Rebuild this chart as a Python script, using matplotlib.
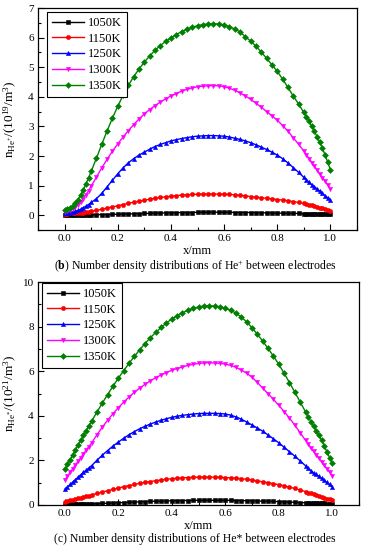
import matplotlib
matplotlib.use("Agg")
import matplotlib.pyplot as plt
from matplotlib.ticker import MultipleLocator

plt.rcParams["font.family"] = ["Liberation Serif", "DejaVu Serif"]
plt.rcParams["mathtext.fontset"] = "custom"
plt.rcParams["mathtext.rm"] = "Liberation Serif"
plt.rcParams["mathtext.it"] = "Liberation Serif:italic"
plt.rcParams["mathtext.bf"] = "Liberation Serif:bold"

# sample positions (mesh is finer next to the electrodes)
x = [0.00, 0.01, 0.02, 0.03, 0.04, 0.05, 0.06, 0.07, 0.08, 0.09, 0.10,
     0.12, 0.14, 0.16, 0.18, 0.20, 0.22, 0.24, 0.26, 0.28, 0.30,
     0.32, 0.34, 0.36, 0.38, 0.40, 0.42, 0.44, 0.46, 0.48, 0.50,
     0.52, 0.54, 0.56, 0.58, 0.60, 0.62, 0.64, 0.66, 0.68, 0.70,
     0.72, 0.74, 0.76, 0.78, 0.80, 0.82, 0.84, 0.86, 0.88,
     0.90, 0.91, 0.92, 0.93, 0.94, 0.95, 0.96, 0.97, 0.98, 0.99, 1.00]

labels = ["1050K", "1150K", "1250K", "1300K", "1350K"]

# (b) He+ number density, 1e19 /m^3
ion_1050 = [0.00, 0.00, 0.00, 0.00, 0.00, 0.01, 0.01, 0.01, 0.01, 0.01, 0.01,
            0.02, 0.02, 0.02, 0.03, 0.03, 0.04, 0.04, 0.05, 0.05, 0.06,
            0.06, 0.07, 0.07, 0.08, 0.08, 0.08, 0.09, 0.09, 0.09, 0.10,
            0.10, 0.10, 0.10, 0.10, 0.10, 0.10, 0.09, 0.09, 0.09, 0.09,
            0.08, 0.08, 0.08, 0.07, 0.07, 0.07, 0.06, 0.06, 0.06,
            0.05, 0.05, 0.05, 0.05, 0.04, 0.04, 0.04, 0.04, 0.03, 0.03, 0.03]
ion_1150 = [0.05, 0.05, 0.06, 0.06, 0.07, 0.08, 0.08, 0.09, 0.10, 0.11, 0.13,
            0.16, 0.20, 0.24, 0.28, 0.32, 0.36, 0.40, 0.44, 0.47, 0.51,
            0.54, 0.57, 0.60, 0.62, 0.64, 0.66, 0.68, 0.69, 0.70, 0.71,
            0.71, 0.72, 0.72, 0.71, 0.71, 0.70, 0.69, 0.67, 0.65, 0.63,
            0.61, 0.59, 0.57, 0.55, 0.53, 0.51, 0.49, 0.46, 0.43,
            0.40, 0.38, 0.35, 0.33, 0.31, 0.28, 0.26, 0.23, 0.21, 0.18, 0.15]
ion_1250 = [0.06, 0.07, 0.08, 0.10, 0.13, 0.16, 0.20, 0.25, 0.30, 0.36, 0.43,
            0.56, 0.74, 0.96, 1.18, 1.40, 1.60, 1.77, 1.91, 2.03, 2.13,
            2.23, 2.32, 2.39, 2.45, 2.51, 2.55, 2.59, 2.62, 2.65, 2.67,
            2.68, 2.69, 2.69, 2.68, 2.67, 2.64, 2.60, 2.56, 2.51, 2.45,
            2.38, 2.30, 2.22, 2.13, 2.03, 1.91, 1.77, 1.61, 1.45,
            1.28, 1.20, 1.11, 1.03, 0.96, 0.89, 0.81, 0.74, 0.66, 0.59, 0.51]
ion_1300 = [0.11, 0.13, 0.16, 0.21, 0.27, 0.35, 0.45, 0.56, 0.68, 0.83, 0.98,
            1.29, 1.60, 1.89, 2.16, 2.41, 2.64, 2.86, 3.06, 3.25, 3.42,
            3.57, 3.70, 3.82, 3.93, 4.03, 4.11, 4.19, 4.25, 4.30, 4.34,
            4.36, 4.37, 4.38, 4.37, 4.34, 4.29, 4.22, 4.13, 4.03, 3.91,
            3.78, 3.65, 3.50, 3.36, 3.21, 3.03, 2.84, 2.62, 2.40,
            2.16, 2.04, 1.91, 1.78, 1.65, 1.52, 1.39, 1.27, 1.14, 1.02, 0.90]
ion_1350 = [0.19, 0.21, 0.25, 0.31, 0.40, 0.52, 0.68, 0.85, 1.05, 1.26, 1.48,
            1.93, 2.40, 2.85, 3.28, 3.68, 4.05, 4.39, 4.68, 4.94, 5.17,
            5.38, 5.57, 5.73, 5.87, 5.99, 6.10, 6.20, 6.28, 6.35, 6.40,
            6.44, 6.46, 6.47, 6.46, 6.43, 6.37, 6.29, 6.19, 6.03, 5.88,
            5.71, 5.51, 5.30, 5.08, 4.86, 4.60, 4.32, 4.03, 3.76,
            3.47, 3.33, 3.17, 3.00, 2.83, 2.65, 2.46, 2.26, 2.03, 1.79, 1.53]

# (c) He* number density, 1e21 /m^3
met_1050 = [0.02, 0.02, 0.03, 0.03, 0.03, 0.04, 0.04, 0.04, 0.05, 0.05, 0.05,
            0.06, 0.07, 0.08, 0.09, 0.10, 0.11, 0.12, 0.13, 0.14, 0.15,
            0.16, 0.17, 0.17, 0.18, 0.19, 0.19, 0.20, 0.20, 0.21, 0.21,
            0.21, 0.21, 0.21, 0.21, 0.21, 0.21, 0.20, 0.20, 0.19, 0.19,
            0.18, 0.17, 0.17, 0.16, 0.15, 0.14, 0.13, 0.12, 0.11,
            0.10, 0.10, 0.09, 0.09, 0.08, 0.08, 0.07, 0.07, 0.06, 0.06, 0.05]
met_1150 = [0.15, 0.18, 0.21, 0.24, 0.27, 0.30, 0.33, 0.36, 0.39, 0.42, 0.45,
            0.52, 0.58, 0.64, 0.70, 0.76, 0.82, 0.87, 0.92, 0.97, 1.01,
            1.05, 1.09, 1.12, 1.15, 1.18, 1.20, 1.22, 1.23, 1.24, 1.25,
            1.25, 1.25, 1.25, 1.24, 1.23, 1.22, 1.20, 1.18, 1.15, 1.12,
            1.08, 1.04, 1.00, 0.96, 0.91, 0.86, 0.80, 0.74, 0.67,
            0.60, 0.56, 0.52, 0.48, 0.45, 0.41, 0.37, 0.33, 0.29, 0.26, 0.22]
met_1250 = [0.70, 0.81, 0.92, 1.03, 1.14, 1.25, 1.36, 1.46, 1.56, 1.66, 1.76,
            2.00, 2.23, 2.44, 2.64, 2.82, 2.99, 3.15, 3.29, 3.42, 3.53,
            3.63, 3.72, 3.80, 3.87, 3.93, 3.98, 4.02, 4.05, 4.08, 4.10,
            4.11, 4.11, 4.11, 4.10, 4.08, 4.03, 3.95, 3.85, 3.72, 3.59,
            3.45, 3.31, 3.14, 2.97, 2.79, 2.59, 2.39, 2.19, 1.98,
            1.76, 1.65, 1.54, 1.45, 1.37, 1.28, 1.20, 1.11, 1.01, 0.92, 0.82]
met_1300 = [1.12, 1.29, 1.46, 1.63, 1.80, 1.96, 2.13, 2.29, 2.46, 2.62, 2.78,
            3.14, 3.48, 3.80, 4.09, 4.36, 4.61, 4.84, 5.05, 5.24, 5.41,
            5.57, 5.71, 5.83, 5.94, 6.04, 6.12, 6.19, 6.26, 6.31, 6.35,
            6.37, 6.38, 6.37, 6.35, 6.32, 6.26, 6.17, 6.05, 5.91, 5.73,
            5.50, 5.24, 4.99, 4.74, 4.47, 4.19, 3.90, 3.58, 3.24,
            2.90, 2.73, 2.56, 2.40, 2.24, 2.09, 1.94, 1.78, 1.63, 1.47, 1.32]
met_1350 = [1.60, 1.82, 2.04, 2.26, 2.48, 2.70, 2.91, 3.12, 3.33, 3.54, 3.75,
            4.16, 4.56, 4.95, 5.32, 5.68, 6.02, 6.35, 6.66, 6.96, 7.24,
            7.50, 7.74, 7.96, 8.16, 8.34, 8.49, 8.62, 8.73, 8.82, 8.88,
            8.92, 8.93, 8.92, 8.89, 8.83, 8.74, 8.60, 8.43, 8.21, 7.95,
            7.66, 7.35, 7.02, 6.68, 6.31, 5.91, 5.49, 5.06, 4.62,
            4.18, 3.96, 3.74, 3.53, 3.32, 3.12, 2.91, 2.65, 2.39, 2.13, 1.87]

colors = ["#000000", "#ff0000", "#0000ff", "#ff00ff", "#008000"]
markers = ["s", "o", "^", "v", "D"]


def draw_panel(ax, series, ylabel, ylim, major, minor, legend_anchor):
    for y, lab, c, m in zip(series, labels, colors, markers):
        ax.plot(x, y, color=c, marker=m, markersize=3, linewidth=1.0,
                markeredgewidth=0.4, label=lab)
    ax.set_xlim(-0.1, 1.1)
    ax.set_ylim(*ylim)
    ax.xaxis.set_major_locator(MultipleLocator(0.2))
    ax.xaxis.set_minor_locator(MultipleLocator(0.1))
    ax.yaxis.set_major_locator(MultipleLocator(major))
    ax.yaxis.set_minor_locator(MultipleLocator(minor))
    ax.set_xticks([0.0, 0.2, 0.4, 0.6, 0.8, 1.0])
    ax.set_xticklabels(["0.0", "0.2", "0.4", "0.6", "0.8", "1.0"])
    ax.tick_params(which="both", direction="in", top=False, right=False,
                   labelsize=8, width=0.8, pad=3)
    ax.tick_params(which="major", length=4)
    ax.tick_params(which="minor", length=2)
    for s in ax.spines.values():
        s.set_linewidth(0.9)
    ax.set_xlabel("x/mm", fontsize=9, labelpad=1)
    ax.set_ylabel(ylabel, fontsize=9.5)
    ax.yaxis.set_label_coords(-0.058, 0.5)
    leg = ax.legend(loc="upper left", bbox_to_anchor=legend_anchor,
                    fontsize=9, frameon=True, fancybox=False, framealpha=1,
                    edgecolor="black", handlelength=2.6, handletextpad=0.3,
                    labelspacing=0.3, borderpad=0.4, borderaxespad=0)
    leg.get_frame().set_linewidth(0.8)


fig = plt.figure(figsize=(3.65, 5.5), dpi=100)
ax1 = fig.add_axes([38 / 365, 1 - 230 / 550, (357 - 38) / 365, (230 - 8) / 550])
ax2 = fig.add_axes([38 / 365, 1 - 505 / 550, (359 - 38) / 365, (505 - 282) / 550])

draw_panel(ax1, [ion_1050, ion_1150, ion_1250, ion_1300, ion_1350],
           r"$\mathregular{n_{He^{+}}/(10^{19}/m^{3})}$", (-0.5, 7), 1, 0.5,
           (0.028, 0.982))
draw_panel(ax2, [met_1050, met_1150, met_1250, met_1300, met_1350],
           r"$\mathregular{n_{He^{*}}/(10^{21}/m^{3})}$", (0, 10), 2, 1,
           (0.012, 0.996))

fig.text(195 / 365, 1 - 267 / 550,
         r"($\mathbf{b}$) Number density distributions of He$^{+}$ between electrodes",
         ha="center", va="center", fontsize=8.5)
fig.text(195 / 365, 1 - 539 / 550,
         "(c) Number density distributions of He* between electrodes",
         ha="center", va="center", fontsize=8.5)

fig.savefig("out.png", dpi=100)
